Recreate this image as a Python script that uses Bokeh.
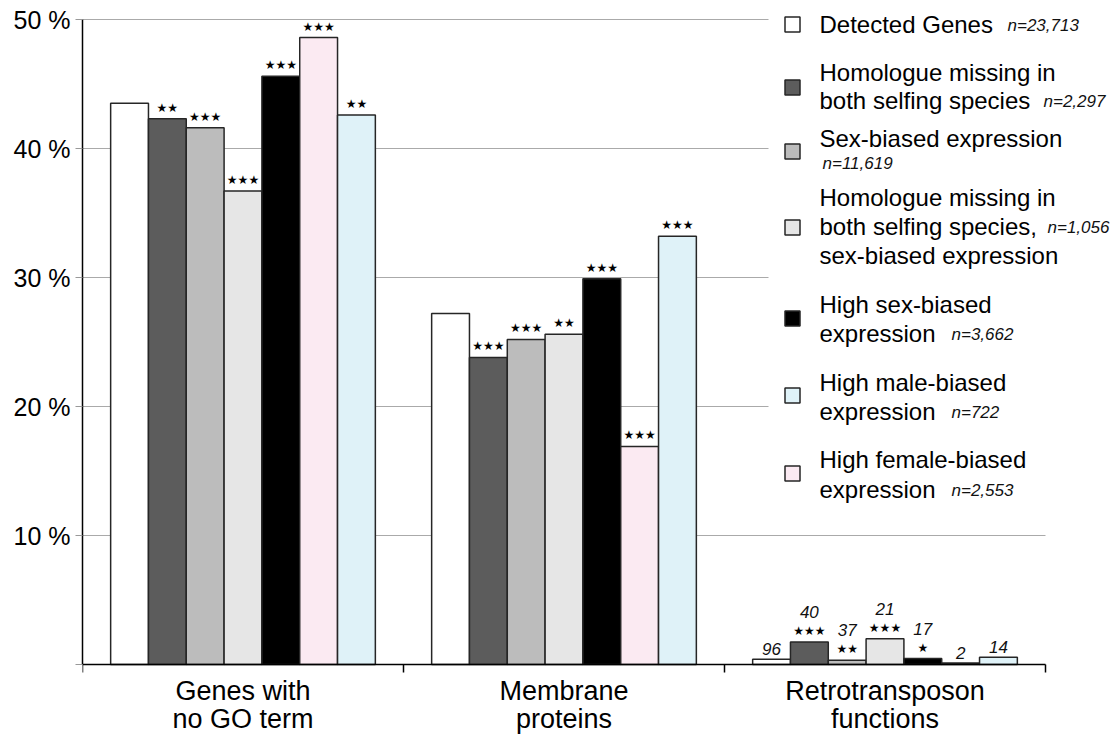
from bokeh.plotting import figure
from bokeh.models import FixedTicker, Label, Range1d
from bokeh.core.properties import value
from bokeh.embed import file_html
from bokeh.resources import INLINE

# ---------------- data ----------------
cat_line1 = ["Genes with", "Membrane", "Retrotransposon"]
cat_line2 = ["no GO term", "proteins", "functions"]

# bar order within each group
detected    = [43.5, 27.2, 0.40]
hom_missing = [42.3, 23.8, 1.74]
sex_biased  = [41.6, 25.2, 0.32]
hom_sex     = [36.7, 25.6, 1.99]
high_sex    = [45.6, 29.9, 0.46]
high_female = [48.6, 16.9, 0.12]
high_male   = [42.6, 33.2, 0.57]

stars_detected    = ["", "", ""]
stars_hom_missing = ["**", "***", "***"]
stars_sex_biased  = ["***", "***", "**"]
stars_hom_sex     = ["***", "**", "***"]
stars_high_sex    = ["***", "***", "*"]
stars_high_female = ["***", "***", ""]
stars_high_male   = ["**", "***", ""]

retro_counts = ["96", "40", "37", "21", "17", "2", "14"]

bar_colors = ["#ffffff", "#5c5c5c", "#bcbcbc", "#e6e6e6", "#000000", "#fbeaf2", "#dff2f8"]

y_ticks = [0, 10, 20, 30, 40, 50]
y_tick_labels = ["", "10 %", "20 %", "30 %", "40 %", "50 %"]
x_bounds = [0, 1, 2, 3]

legend_colors = ["#ffffff", "#5c5c5c", "#bcbcbc", "#e6e6e6", "#000000", "#dff2f8", "#fbeaf2"]
legend_lines = [
    ["Detected Genes"],
    ["Homologue missing in", "both selfing species"],
    ["Sex-biased expression"],
    ["Homologue missing in", "both selfing species,", "sex-biased expression"],
    ["High sex-biased", "expression"],
    ["High male-biased", "expression"],
    ["High female-biased", "expression"],
]
legend_n = ["n=23,713", "n=2,297", "n=11,619", "n=1,056", "n=3,662", "n=722", "n=2,553"]

series = [detected, hom_missing, sex_biased, hom_sex, high_sex, high_female, high_male]
series_stars = [stars_detected, stars_hom_missing, stars_sex_biased, stars_hom_sex,
                stars_high_sex, stars_high_female, stars_high_male]

# ---------------- layout ----------------
W, H = 1119, 738
LEFT, RIGHT, TOP, BOTTOM = 82, 1115, 2, 738      # frame edges in px
X0_PX, X_PER_CAT = 82, 321.0                      # px of x=0, px per category
Y0_PX, Y_PER_UNIT = 664, 12.9                      # px of y=0, px per percent
BAR_W = 0.1178
FONT = "Liberation Sans"
OUTLINE = "#262626"

x_start = (LEFT - X0_PX) / X_PER_CAT
x_end = (RIGHT - X0_PX) / X_PER_CAT
y_start = (Y0_PX - BOTTOM) / Y_PER_UNIT
y_end = (Y0_PX - TOP) / Y_PER_UNIT


def dx(px):
    return (px - X0_PX) / X_PER_CAT


def dy(py):
    return (Y0_PX - py) / Y_PER_UNIT


p = figure(width=W, height=H, x_range=Range1d(x_start, x_end), y_range=Range1d(y_start, y_end),
           output_backend="svg", toolbar_location=None,
           min_border_left=LEFT, min_border_right=W - RIGHT,
           min_border_top=TOP, min_border_bottom=H - BOTTOM)
p.outline_line_color = None
p.background_fill_color = "white"
p.border_fill_color = "white"
p.xgrid.visible = False
p.ygrid.visible = False

# y axis
ya = p.yaxis[0]
ya.ticker = FixedTicker(ticks=y_ticks)
ya.bounds = (y_ticks[0], y_ticks[-1])
ya.major_label_overrides = {t: l for t, l in zip(y_ticks, y_tick_labels)}
ya.major_label_text_font = FONT
ya.major_label_text_font_size = "25px"
ya.major_label_text_color = "black"
ya.major_label_standoff = 5
ya.major_tick_out = 7
ya.major_tick_in = 0
ya.major_tick_line_color = "#999999"
ya.minor_tick_line_color = None
ya.axis_line_color = "black"
ya.axis_line_width = 1.5

# x axis at y = 0, ticks at category boundaries
xa = p.xaxis[0]
xa.fixed_location = 0
xa.bounds = (x_bounds[0], x_bounds[-1])
xa.ticker = FixedTicker(ticks=x_bounds)
xa.major_label_overrides = {t: "" for t in x_bounds}
xa.major_label_text_font_size = "1px"
xa.major_tick_out = 8
xa.major_tick_in = 0
xa.major_tick_line_color = "black"
xa.major_tick_line_width = 1.5
xa.minor_tick_line_color = None
xa.axis_line_color = "black"
xa.axis_line_width = 1.5

# horizontal grid lines (span the categories only)
gy = y_ticks[1:]
p.segment(x0=[x_bounds[0]] * len(gy), x1=[x_bounds[-1]] * len(gy), y0=gy, y1=gy,
          line_color="#aaaaaa", line_width=1)

# bars
for j, (vals, col) in enumerate(zip(series, bar_colors)):
    xs = [i + 0.5 + (j - 3) * BAR_W for i in range(len(vals))]
    p.vbar(x=xs, top=vals, bottom=0, width=BAR_W, fill_color=col,
           line_color=OUTLINE, line_width=1.5)
    st = series_stars[j]
    sx = [x for x, s in zip(xs, st) if s]
    sy = [v for v, s in zip(vals, st) if s]
    stxt = ["\u2605" * len(s) for s in st if s]
    if sx:
        p.text(x=sx, y=sy, text=stxt, text_align="center", text_baseline="alphabetic",
               y_offset=-11, text_font=value("DejaVu Sans"), text_font_size="12px",
               text_color="black")
    # counts above retrotransposon bars
    off = -30 if st[2] else -10
    p.text(x=[xs[2]], y=[vals[2]], text=[retro_counts[j]], text_align="center",
           text_baseline="alphabetic", y_offset=off, text_font=value(FONT),
           text_font_style="italic", text_font_size="17px", text_color="#111111")

# category labels
for i, (l1, l2) in enumerate(zip(cat_line1, cat_line2)):
    for txt, py in ((l1, 690), (l2, 718)):
        p.add_layout(Label(x=i + 0.5, y=dy(py), text=txt, text_align="center",
                           text_baseline="middle", text_font=FONT,
                           text_font_size="27px", text_color="black"))

# legend (white background, squares, texts)
p.quad(left=[dx(768)], right=[x_end], bottom=[dy(515)], top=[y_end],
       fill_color="white", line_color=None)

sq_y = [24, 87, 151, 227, 318, 395, 473]
line_y = [[24], [72, 100], [138], [197, 226, 255], [304, 333], [382, 411], [459, 489]]
n_pos = [(1007, 24), (1043, 100), (822, 162), (1047, 226), (951, 333), (951, 411), (951, 489)]

p.scatter(x=[dx(792)] * len(sq_y), y=[dy(v) for v in sq_y], marker="square", size=15,
          fill_color=legend_colors, line_color=OUTLINE, line_width=1.5)

for lines, ys, npos, ntxt in zip(legend_lines, line_y, n_pos, legend_n):
    for txt, py in zip(lines, ys):
        p.add_layout(Label(x=dx(819), y=dy(py), text=txt, text_align="left",
                           text_baseline="middle", text_font=FONT,
                           text_font_size="24px", text_color="black"))
    p.add_layout(Label(x=dx(npos[0]), y=dy(npos[1] + 1), text=ntxt, text_align="left",
                       text_baseline="middle", text_font=FONT, text_font_style="italic",
                       text_font_size="17px", text_color="#111111"))

open("out.html", "w").write(file_html(p, INLINE))
